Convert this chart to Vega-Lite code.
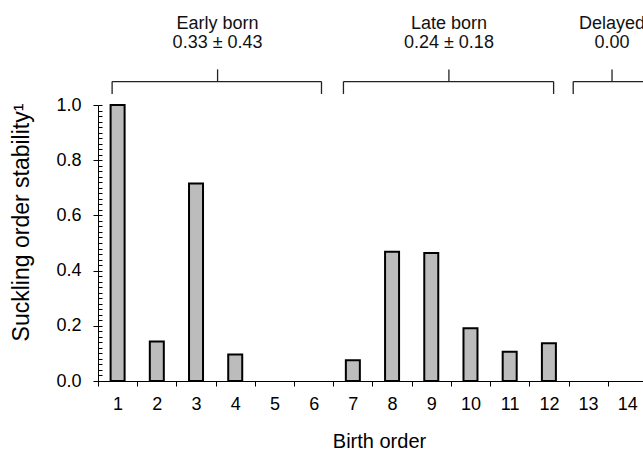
{
  "$schema": "https://vega.github.io/schema/vega-lite/v6.json",
  "autosize": {"type": "none"},
  "padding": {"left": 98, "top": 105, "right": 0, "bottom": 76},
  "width": 545,
  "height": 276,
  "background": "white",
  "config": {
    "view": {"stroke": null},
    "font": "Liberation Sans",
    "axis": {"labelFont": "Liberation Sans", "titleFont": "Liberation Sans", "titleFontWeight": "normal", "labelColor": "#000", "titleColor": "#000", "domainColor": "#000", "tickColor": "#000", "grid": false}
  },
  "datasets": {
    "bars": [
      {"order": 1, "stability": 1.0},
      {"order": 2, "stability": 0.143},
      {"order": 3, "stability": 0.716},
      {"order": 4, "stability": 0.096},
      {"order": 5, "stability": 0},
      {"order": 6, "stability": 0},
      {"order": 7, "stability": 0.075},
      {"order": 8, "stability": 0.468},
      {"order": 9, "stability": 0.464},
      {"order": 10, "stability": 0.191},
      {"order": 11, "stability": 0.106},
      {"order": 12, "stability": 0.137},
      {"order": 13, "stability": 0},
      {"order": 14, "stability": 0}
    ],
    "groups": [
      {"group": "Early born", "stat": "0.33 ± 0.43", "from": 0.86, "to": 6.2, "mid": 3.55},
      {"group": "Late born", "stat": "0.24 ± 0.18", "from": 6.76, "to": 12.12, "mid": 9.45},
      {"group": "Delayed", "stat": "0.00", "from": 12.62, "to": 14.6, "mid": 13.61}
    ]
  },
  "resolve": {"axis": {"x": "independent", "y": "independent"}},
  "layer": [
    {
      "data": {"name": "bars"},
      "transform": [{"filter": "datum.stability > 0"}],
      "mark": {"type": "bar", "size": 14, "fill": "#bcbcbc", "stroke": "#000", "strokeWidth": 2},
      "encoding": {
        "x": {
          "field": "order", "type": "quantitative",
          "scale": {"domain": [0.5, 14.4], "nice": false, "zero": false, "padding": 0},
          "axis": {
            "values": [0.5, 1, 1.5, 2, 2.5, 3, 3.5, 4, 4.5, 5, 5.5, 6, 6.5, 7, 7.5, 8, 8.5, 9, 9.5, 10, 10.5, 11, 11.5, 12, 12.5, 13, 13.5, 14],
            "labelExpr": "datum.value % 1 == 0 ? format(datum.value, 'd') : ''",
            "tickOpacity": {"condition": {"test": "datum.value % 1 == 0", "value": 0}, "value": 1},
            "tickSize": 5,
            "labelPadding": 9,
            "labelFontSize": 18,
            "labelFlush": false,
            "labelOverlap": false,
            "title": "Birth order",
            "titleFontSize": 20,
            "titlePadding": 18,
            "titleX": 281
          }
        },
        "y": {
          "field": "stability", "type": "quantitative",
          "scale": {"domain": [0, 1], "nice": false, "padding": 0},
          "axis": {
            "orient": "left",
            "values": [0, 0.2, 0.4, 0.6, 0.8, 1.0],
            "format": ".1f",
            "tickSize": 5,
            "labelPadding": 12,
            "labelFontSize": 18,
            "labelFlush": false,
            "title": "Suckling order stability¹",
            "titleFontSize": 23,
            "titleX": -65,
            "titleY": 117
          }
        }
      }
    },
    {
      "data": {"name": "groups"},
      "mark": {"type": "rule", "color": "#222", "strokeWidth": 1.3, "clip": false},
      "encoding": {
        "x": {"field": "from", "type": "quantitative", "scale": {"domain": [0.5, 14.4], "nice": false, "zero": false, "padding": 0}, "axis": null},
        "x2": {"field": "to"},
        "y": {
          "datum": 1.085, "type": "quantitative",
          "scale": {"domain": [0, 1], "nice": false, "padding": 0},
          "axis": {
            "orient": "left",
            "values": [0, 0.02, 0.04, 0.06, 0.08, 0.1, 0.12, 0.14, 0.16, 0.18, 0.2, 0.22, 0.24, 0.26, 0.28, 0.3, 0.32, 0.34, 0.36, 0.38, 0.4, 0.42, 0.44, 0.46, 0.48, 0.5, 0.52, 0.54, 0.56, 0.58, 0.6, 0.62, 0.64, 0.66, 0.68, 0.7, 0.72, 0.74, 0.76, 0.78, 0.8, 0.82, 0.84, 0.86, 0.88, 0.9, 0.92, 0.94, 0.96, 0.98, 1.0],
            "tickSize": -4,
            "labels": false,
            "domain": false,
            "title": null
          }
        }
      }
    },
    {
      "data": {"name": "groups"},
      "mark": {"type": "rule", "color": "#222", "strokeWidth": 1.3, "clip": false},
      "encoding": {
        "x": {"field": "from", "type": "quantitative", "scale": {"domain": [0.5, 14.4], "nice": false, "zero": false, "padding": 0}, "axis": null},
        "y": {"datum": 1.085, "type": "quantitative", "scale": {"domain": [0, 1], "nice": false, "padding": 0}, "axis": null},
        "y2": {"datum": 1.04}
      }
    },
    {
      "data": {"name": "groups"},
      "mark": {"type": "rule", "color": "#222", "strokeWidth": 1.3, "clip": false},
      "encoding": {
        "x": {"field": "to", "type": "quantitative", "scale": {"domain": [0.5, 14.4], "nice": false, "zero": false, "padding": 0}, "axis": null},
        "y": {"datum": 1.085, "type": "quantitative", "scale": {"domain": [0, 1], "nice": false, "padding": 0}, "axis": null},
        "y2": {"datum": 1.04}
      }
    },
    {
      "data": {"name": "groups"},
      "mark": {"type": "rule", "color": "#222", "strokeWidth": 1.3, "clip": false},
      "encoding": {
        "x": {"field": "mid", "type": "quantitative", "scale": {"domain": [0.5, 14.4], "nice": false, "zero": false, "padding": 0}, "axis": null},
        "y": {"datum": 1.085, "type": "quantitative", "scale": {"domain": [0, 1], "nice": false, "padding": 0}, "axis": null},
        "y2": {"datum": 1.129}
      }
    },
    {
      "data": {"name": "groups"},
      "mark": {"type": "text", "fontSize": 18, "color": "#111", "baseline": "middle", "align": "center", "clip": false},
      "encoding": {
        "x": {"field": "mid", "type": "quantitative", "scale": {"domain": [0.5, 14.4], "nice": false, "zero": false, "padding": 0}, "axis": null},
        "y": {"datum": 1.293, "type": "quantitative", "scale": {"domain": [0, 1], "nice": false, "padding": 0}, "axis": null},
        "text": {"field": "group"}
      }
    },
    {
      "data": {"name": "groups"},
      "mark": {"type": "text", "fontSize": 18, "color": "#111", "baseline": "middle", "align": "center", "clip": false},
      "encoding": {
        "x": {"field": "mid", "type": "quantitative", "scale": {"domain": [0.5, 14.4], "nice": false, "zero": false, "padding": 0}, "axis": null},
        "y": {"datum": 1.223, "type": "quantitative", "scale": {"domain": [0, 1], "nice": false, "padding": 0}, "axis": null},
        "text": {"field": "stat"}
      }
    }
  ]
}
